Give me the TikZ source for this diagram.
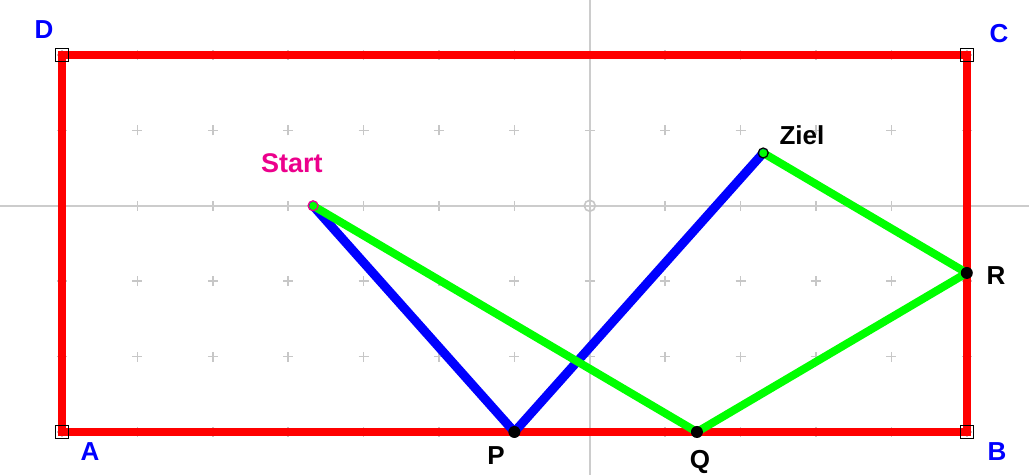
\documentclass[tikz,border=0pt]{standalone}
\usepackage{fontspec}
\setmainfont{Liberation Sans}
\begin{document}
\begin{tikzpicture}[x=75.4pt,y=75.4pt,
  gridcross/.style={draw=black!22,line width=1.6pt},
  axisline/.style={draw=black!20,line width=2pt},
  rectline/.style={draw=red,line width=7.5pt,line cap=rect},
  corner/.style={draw=black,line width=1.3pt,minimum size=13pt,inner sep=0pt,rectangle},
  ptfilled/.style={circle,fill=black,minimum size=12pt,inner sep=0pt},
  ptopen/.style={circle,draw=black,line width=1.2pt,minimum size=10pt,inner sep=0pt},
  vlabel/.style={text=blue,font=\fontsize{26}{28}\selectfont\bfseries},
  plabel/.style={text=black,font=\fontsize{26}{28}\selectfont\bfseries},
  bluepath/.style={draw=blue,line width=9pt,line join=round,line cap=round},
  greenpath/.style={draw=green,line width=8pt,line join=round,line cap=round}]
\useasboundingbox[fill=white] (-7.822,-3.570) rectangle (5.825,2.729);
% grid crosses
\foreach \i in {-7,...,5}{
  \foreach \j in {-3,...,2}{
    \draw[gridcross] (\i,\j) ++(-5pt,0) -- ++(10pt,0) (\i,\j) ++(0,-5pt) -- ++(0,10pt);
  }}
% axes
\draw[axisline] (-7.822,0) -- (5.825,0);
\draw[axisline] (0,-3.570) -- (0,2.729);
\node[circle,draw=black!22,line width=1.6pt,minimum size=11pt,inner sep=0pt] (O) at (0,0) {};
% rectangle
\coordinate (A) at (-7,-3);
\coordinate (B) at (5,-3);
\coordinate (C) at (5,2);
\coordinate (D) at (-7,2);
\draw[rectline] (A) -- (B) -- (C) -- (D) -- cycle;
\foreach \c in {A,B,C,D}{\node[corner] at (\c) {};}
% points
\coordinate (S) at (-3.67,0);
\coordinate (Z) at (2.30,0.70);
\coordinate (P) at (-1,-3);
\coordinate (Q) at (1.421,-3);
\coordinate (R) at (5,-0.891);
% paths
\draw[bluepath] (S) -- (P) -- (Z);
\draw[greenpath] (S) -- (Q) -- (R) -- (Z);
\node[ptfilled] (Pn) at (P) {};
\node[ptfilled] (Qn) at (Q) {};
\node[ptfilled] (Rn) at (R) {};
\node[circle,draw=magenta,line width=1.2pt,minimum size=10pt,inner sep=0pt] (Sn) at (S) {};
\node[ptopen] (Zn) at (Z) {};
% labels
\node[vlabel] (lA) at ({(90-589.8)/75.4},{(205.8-452)/75.4}) {A};
\node[vlabel] (lB) at ({(997-589.8)/75.4},{(205.8-452)/75.4}) {B};
\node[vlabel] (lC) at ({(999-589.8)/75.4},{(205.8-34)/75.4}) {C};
\node[vlabel] (lD) at ({(44-589.8)/75.4},{(205.8-30)/75.4}) {D};
\node[plabel] (lP) at ({(496-589.8)/75.4},{(205.8-456)/75.4}) {P};
\node[plabel] (lQ) at ({(700-589.8)/75.4},{(205.8-462)/75.4}) {Q};
\node[plabel] (lR) at ({(996-589.8)/75.4},{(205.8-276)/75.4}) {R};
\node[plabel] (lZ) at ({(802-589.8)/75.4},{(205.8-135)/75.4}) {Ziel};
\node[text=magenta,font=\fontsize{27}{30}\selectfont\bfseries] (lS) at ({(292-589.8)/75.4},{(205.8-163)/75.4}) {Start};
\end{tikzpicture}
\end{document}
